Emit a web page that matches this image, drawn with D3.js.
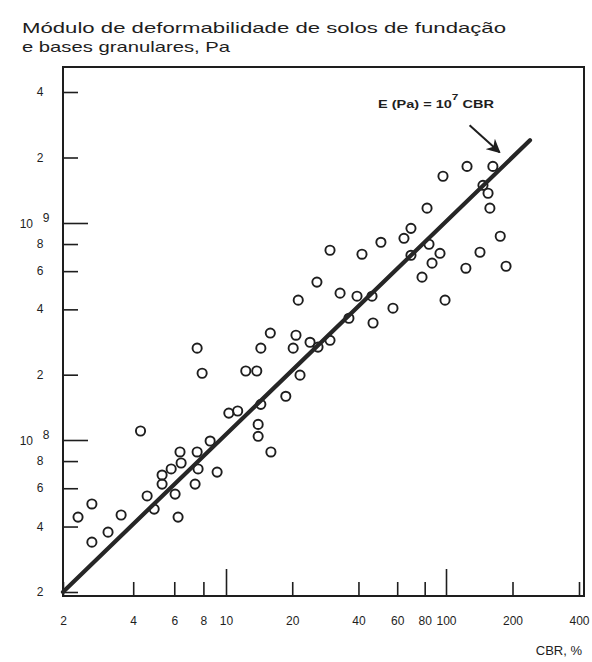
<!DOCTYPE html>
<html>
<head>
<meta charset="utf-8">
<script src="https://cdn.jsdelivr.net/npm/d3@7"></script>
<style>
  html, body { margin: 0; padding: 0; background: #fff; }
  svg { display: block; font-family: "Liberation Sans", Arial, Helvetica, sans-serif; }
</style>
</head>
<body>
<svg id="chart" width="592" height="662"></svg>
<script>
// CBR (%) of each tested soil / granular base
const cbr = [
  4.3, 2.66, 2.32, 2.66, 3.12, 3.55, 4.59, 4.92, 5.32, 5.32,
  5.82, 6.35, 6.42, 6.05, 6.23, 7.52, 7.59, 7.37, 8.55, 9.16,
  7.52, 7.9, 10.3, 11.3, 12.3, 13.8, 14.4, 15.9, 14.4, 14.0,
  14.0, 16.0, 18.7, 20.8, 20.2, 21.7, 24.1, 26.2, 29.7, 21.3,
  25.9, 33.0, 39.4, 46.1, 57.4, 36.2, 46.6, 29.7, 41.5, 50.6,
  64.4, 69.3, 69.3, 77.8, 82.0, 96.9, 124.5, 163, 147, 155,
  158, 176, 142.5, 187, 123, 83.7, 93.9, 86.4, 99.0
];
// Deformability modulus E (Pa) measured for the same samples
const modulus = [
  1.10e8, 5.08e7, 4.42e7, 3.39e7, 3.77e7, 4.52e7, 5.53e7, 4.81e7, 6.90e7, 6.27e7,
  7.36e7, 8.81e7, 7.84e7, 5.64e7, 4.42e7, 8.81e7, 7.36e7, 6.27e7, 9.89e7, 7.12e7,
  2.65e8, 2.03e8, 1.33e8, 1.36e8, 2.08e8, 2.08e8, 2.65e8, 3.11e8, 1.46e8, 1.18e8,
  1.04e8, 8.81e7, 1.59e8, 3.04e8, 2.65e8, 1.99e8, 2.82e8, 2.68e8, 2.88e8, 4.41e8,
  5.34e8, 4.75e8, 4.60e8, 4.60e8, 4.05e8, 3.64e8, 3.46e8, 7.49e8, 7.18e8, 8.15e8,
  8.50e8, 9.45e8, 7.10e8, 5.63e8, 1.17e9, 1.64e9, 1.82e9, 1.82e9, 1.49e9, 1.37e9,
  1.17e9, 8.69e8, 7.33e8, 6.32e8, 6.19e8, 7.98e8, 7.25e8, 6.53e8, 4.41e8
];
// Correlation line E (Pa) = 10^7 CBR, drawn between its two end points
const fitCBR = [2, 240];
const fitE = [2e7, 2.4e9];

// Tick values and their labels
const xTickValues = [2, 4, 6, 8, 10, 20, 40, 60, 80, 100, 200, 400];
const xTickLabels = ["2", "4", "6", "8", "10", "20", "40", "60", "80", "100", "200", "400"];
const xMajorTicks = [10, 100];
const yTickValues = [2e7, 4e7, 6e7, 8e7, 1e8, 2e8, 4e8, 6e8, 8e8, 1e9, 2e9, 4e9];
const yTickLabels = ["2", "4", "6", "8", "10|8", "2", "4", "6", "8", "10|9", "2", "4"];
const yMajorTicks = [1e8, 1e9];

const titleLines = ["Módulo de deformabilidade de solos de fundação", "e bases granulares, Pa"];
const xTitle = "CBR, %";

const svg = d3.select("#chart");
const ink = "#1e1e1e";

// Log-log scales (hand-drawn decades are not perfectly even, hence the piecewise domain)
const x = d3.scaleLog().domain([2, 10, 100, 400]).range([63, 226, 446, 579]);
const y = d3.scaleLog().domain([2e7, 1e8, 1e9, 4e9]).range([592, 440, 223, 92]);

const box = { left: 63, top: 67, right: 584, bottom: 596 };

// Title
svg.append("text").attr("x", 22).attr("y", 33)
  .attr("font-size", 15).attr("fill", ink)
  .attr("textLength", 484).attr("lengthAdjust", "spacingAndGlyphs")
  .text(titleLines[0]);
svg.append("text").attr("x", 22).attr("y", 52)
  .attr("font-size", 15).attr("fill", ink)
  .attr("textLength", 208).attr("lengthAdjust", "spacingAndGlyphs")
  .text(titleLines[1]);

// Frame
svg.append("rect")
  .attr("x", box.left).attr("y", box.top)
  .attr("width", box.right - box.left).attr("height", box.bottom - box.top)
  .attr("fill", "none").attr("stroke", ink).attr("stroke-width", 2);

// Bottom axis: ticks point up into the plot
const xAxis = d3.axisBottom(x)
  .tickValues(xTickValues)
  .tickSize(-14)
  .tickPadding(20)
  .tickFormat((d, i) => xTickLabels[i]);
const gx = svg.append("g").attr("transform", `translate(0,${box.bottom})`).call(xAxis);
gx.select(".domain").remove();
gx.selectAll(".tick line").attr("stroke", ink).attr("stroke-width", 1.6)
  .attr("y2", d => xMajorTicks.includes(d) ? -27 : -14);
gx.selectAll(".tick text").attr("font-size", 12).attr("fill", ink)
  .attr("font-family", "'Liberation Sans', Arial, sans-serif");

// Left axis: ticks point right into the plot
const yAxis = d3.axisLeft(y)
  .tickValues(yTickValues)
  .tickSize(-15)
  .tickFormat("");
const gy = svg.append("g").attr("transform", `translate(${box.left},0)`).call(yAxis);
gy.select(".domain").remove();
gy.selectAll(".tick line").attr("stroke", ink).attr("stroke-width", 1.6)
  .attr("x2", d => yMajorTicks.includes(d) ? 25 : 15);

// Y tick labels, powers of ten written with a raised exponent
const yLab = svg.append("g").attr("fill", ink).attr("font-size", 12);
yTickValues.forEach((v, i) => {
  const lab = yTickLabels[i];
  const py = y(v);
  if (lab.includes("|")) {
    const [base, exp] = lab.split("|");
    yLab.append("text").attr("x", 33).attr("y", py + 5).attr("text-anchor", "end").text(base);
    yLab.append("text").attr("x", 46).attr("y", py - 1).attr("text-anchor", "middle").text(exp);
  } else {
    yLab.append("text").attr("x", 40).attr("y", py + 4).attr("text-anchor", "middle").text(lab);
  }
});

// X axis title
svg.append("text").attr("x", 582).attr("y", 655).attr("text-anchor", "end")
  .attr("font-size", 13).attr("fill", ink).text(xTitle);

// Data points
svg.append("g").selectAll("circle")
  .data(cbr.map((c, i) => [c, modulus[i]]))
  .join("circle")
  .attr("cx", d => x(d[0]))
  .attr("cy", d => y(d[1]))
  .attr("r", 4.6)
  .attr("fill", "none")
  .attr("stroke", ink)
  .attr("stroke-width", 1.9);

// Correlation line
svg.append("line")
  .attr("x1", x(fitCBR[0])).attr("y1", y(fitE[0]))
  .attr("x2", x(fitCBR[1])).attr("y2", y(fitE[1]))
  .attr("stroke", "#262626").attr("stroke-width", 4.2).attr("stroke-linecap", "round");

// Equation label with arrow to the line
const eq = svg.append("text").attr("x", 378).attr("y", 108)
  .attr("font-size", 11).attr("fill", ink).attr("font-weight", 600)
  .attr("textLength", 116).attr("lengthAdjust", "spacingAndGlyphs");
eq.append("tspan").text("E (Pa) = 10");
eq.append("tspan").attr("dy", -8).attr("font-size", 9).text("7");
eq.append("tspan").attr("dy", 8).text(" CBR");

const tip = [x(190) - 8, y(1.9e9) - 10];
const tail = [tip[0] - 30, tip[1] - 27];
svg.append("defs").append("marker")
  .attr("id", "head").attr("viewBox", "0 0 10 10")
  .attr("refX", 9).attr("refY", 5)
  .attr("markerWidth", 7).attr("markerHeight", 7)
  .attr("orient", "auto")
  .append("path").attr("d", "M0,0 L10,5 L0,10 L3,5 Z").attr("fill", ink);
svg.append("line")
  .attr("x1", tail[0]).attr("y1", tail[1])
  .attr("x2", tip[0]).attr("y2", tip[1])
  .attr("stroke", ink).attr("stroke-width", 2)
  .attr("marker-end", "url(#head)");
</script>
</body>
</html>
